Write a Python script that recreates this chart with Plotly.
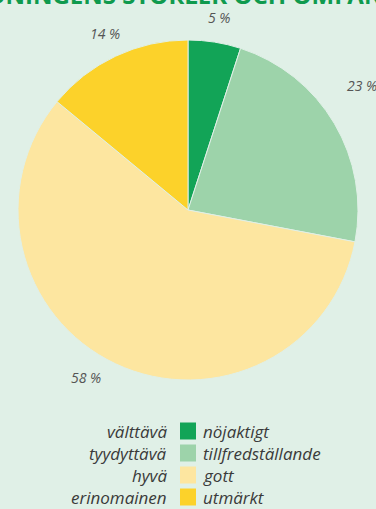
import math
import plotly.graph_objects as go

# ---- data ----
categories_fi = ["välttävä", "tyydyttävä", "hyvä", "erinomainen"]
categories_sv = ["nöjaktigt", "tillfredställande", "gott", "utmärkt"]
values = [5, 23, 58, 14]
pct_labels = ["5 %", "23 %", "58 %", "14 %"]
title_text = "UTBILDNINGENS STORLEK OCH OMFÅNG"

# ---- style ----
colors = ["#12a457", "#9dd3aa", "#fde6a0", "#fcd22a"]
bg = "#e0f0e7"
W, H = 376, 509
cx_px, cy_px, r_px = 188, 210, 170
label_r = [195, 214, 196, 195]
label_nudge_deg = [0, -5, 6, 0]
text_color = "#3a3a3a"
font_it = "Open Sans"

fig = go.Figure()
fig.add_trace(go.Pie(
    values=values,
    labels=categories_sv,
    sort=False,
    direction="clockwise",
    rotation=0,
    marker=dict(colors=colors, line=dict(color=bg, width=1)),
    textinfo="none",
    hoverinfo="label+percent",
    showlegend=False,
    domain=dict(x=[(cx_px - r_px) / W, (cx_px + r_px) / W],
                y=[1 - (cy_px + r_px) / H, 1 - (cy_px - r_px) / H]),
))

annotations = []
# percentage labels placed from slice mid angles
total = sum(values)
cum = 0
for i, v in enumerate(values):
    mid = (cum + v / 2) / total * 360 + label_nudge_deg[i]
    cum += v
    a = math.radians(mid)
    x_px = cx_px + label_r[i] * math.sin(a)
    y_px = cy_px - label_r[i] * math.cos(a)
    annotations.append(dict(
        x=x_px / W, y=1 - y_px / H, xref="paper", yref="paper",
        text=pct_labels[i], showarrow=False,
        font=dict(family=font_it, size=14, color="#555555", style="italic"),
        xanchor="center", yanchor="middle"))

# legend (custom two-language)
row_y = [431, 453, 475, 497]
shapes = []
for i in range(len(values)):
    yy = row_y[i]
    annotations.append(dict(
        x=169 / W, y=1 - yy / H, xref="paper", yref="paper",
        text=categories_fi[i], showarrow=False, xanchor="right", yanchor="middle",
        font=dict(family=font_it, size=17, color=text_color, style="italic")))
    annotations.append(dict(
        x=201 / W, y=1 - yy / H, xref="paper", yref="paper",
        text=categories_sv[i], showarrow=False, xanchor="left", yanchor="middle",
        font=dict(family=font_it, size=17, color=text_color, style="italic")))
    shapes.append(dict(
        type="rect", xref="paper", yref="paper",
        x0=180 / W, x1=196 / W, y0=1 - (yy + 8.5) / H, y1=1 - (yy - 8.5) / H,
        fillcolor=colors[i], line=dict(width=0)))

# cropped title at top
annotations.append(dict(
    x=-84 / W, y=1 + 5 / H, xref="paper", yref="paper",
    text="<b>" + title_text + "</b>", showarrow=False, xanchor="left", yanchor="middle",
    font=dict(family="Open Sans", size=24, color="#0f9a4e")))

fig.update_layout(
    width=W, height=H,
    margin=dict(l=0, r=0, t=0, b=0),
    paper_bgcolor=bg, plot_bgcolor=bg,
    annotations=annotations, shapes=shapes,
)
fig.write_html("out.html")
